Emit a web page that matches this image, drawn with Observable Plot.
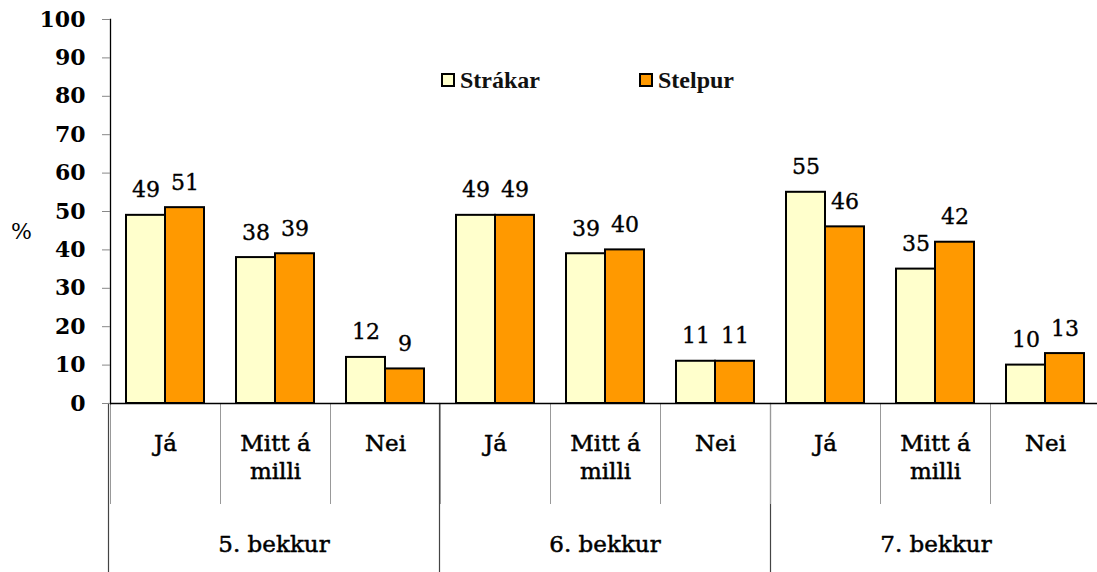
<!DOCTYPE html>
<html><head><meta charset="utf-8">
<script src="https://cdn.jsdelivr.net/npm/d3@7"></script>
<script src="https://cdn.jsdelivr.net/npm/@observablehq/plot@0.6"></script>
<style>
html,body{margin:0;padding:0;background:#fff;overflow:hidden}
#wrap{position:relative;width:1097px;height:572px;background:#fff}
#wrap svg{position:absolute;left:0;top:0}
.leg{position:absolute;display:flex;align-items:center;height:24px;font-family:"Liberation Serif",serif;font-weight:bold;font-size:24px;color:#111;white-space:nowrap}
.leg .sw{width:14px;height:14px;box-sizing:border-box;border:2px solid #000;margin-right:5px}
.ylab{position:absolute;left:11px;top:219px;font-family:"DejaVu Serif",serif;font-size:22px;color:#000}
</style></head>
<body><div id="wrap"></div>
<script>
const grades = ["5. bekkur", "6. bekkur", "7. bekkur"];
const answers = ["Já", "Mitt á milli", "Nei"];
const answerLabels = ["Já", "Mitt á\nmilli", "Nei"];
const series = ["Strákar", "Stelpur"];
const colors = ["#FFFFCC", "#FF9900"];
const strakar = [49, 38, 12, 49, 39, 11, 55, 35, 10];
const stelpur = [51, 39, 9, 49, 40, 11, 46, 42, 13];
const yTicks = [0, 10, 20, 30, 40, 50, 60, 70, 80, 90, 100];
const yLabel = "%";

const keys = grades.flatMap(g => answers.map(a => g + "|" + a));
const labelOf = k => answerLabels[answers.indexOf(k.split("|")[1])];
const data = keys.flatMap((k, i) => [
  {key: k, series: series[0], value: strakar[i]},
  {key: k, series: series[1], value: stelpur[i]}
]);

const common = {
  width: 1097, height: 572,
  marginTop: 19, marginBottom: 0, marginLeft: 108, marginRight: -4
};

const groupPlot = Plot.plot({
  ...common,
  style: {fontFamily: "'DejaVu Serif', serif", fontSize: "22px", background: "white"},
  fx: {domain: grades, padding: 0, axis: null},
  marks: [
    Plot.frame({anchor: "left", insetTop: 384, stroke: "#444", strokeWidth: 1.2}),
    Plot.text(grades, {fx: d => d, text: d => d, frameAnchor: "bottom", dy: -21, fontSize: 23, fill: "black", stroke: "black", strokeWidth: 0.5})
  ]
});

const mainPlot = Plot.plot({
  ...common,
  style: {fontFamily: "'DejaVu Serif', serif", fontSize: "22px", background: "transparent"},
  fx: {domain: keys, padding: 0, axis: null},
  x: {domain: series, paddingInner: 0, paddingOuter: 0.4, axis: null},
  y: {domain: [0, 100], range: [403, 19]},
  color: {domain: series, range: colors},
  marks: [
    Plot.frame({anchor: "left", insetTop: 384, insetBottom: 69, stroke: "#999", strokeWidth: 1}),
    Plot.frame({anchor: "left", facetAnchor: "left", insetBottom: 169, stroke: "black", strokeWidth: 1.3}),
    Plot.axisY(yTicks, {tickSize: 8, tickPadding: 17, fontSize: 22, fontWeight: "bold", stroke: "#888", fill: "black", label: null}),
    Plot.barY(data, {fx: "key", x: "series", y: "value", fill: "series", stroke: "black", strokeWidth: 2}),
    Plot.ruleY([0], {stroke: "black", strokeWidth: 1.5}),
    Plot.text(data, {fx: "key", x: "series", y: "value", text: "value", dy: -25, fontSize: 22, fill: "black", stroke: "black", strokeWidth: 0.35}),
    Plot.text(keys, {fx: d => d, text: labelOf, frameAnchor: "bottom", lineAnchor: "top", dy: -141, lineHeight: 1.2, fontSize: 23, fill: "black", stroke: "black", strokeWidth: 0.5})
  ]
});

const wrap = document.getElementById("wrap");
wrap.appendChild(groupPlot);
wrap.appendChild(mainPlot);

const yl = document.createElement("div");
yl.className = "ylab"; yl.textContent = yLabel;
wrap.appendChild(yl);

const legLeft = [441, 639];
series.forEach((s, i) => {
  const d = document.createElement("div");
  d.className = "leg";
  d.style.left = legLeft[i] + "px";
  d.style.top = "68px";
  const sw = document.createElement("span");
  sw.className = "sw"; sw.style.background = colors[i];
  const t = document.createElement("span");
  t.textContent = s;
  d.appendChild(sw); d.appendChild(t);
  wrap.appendChild(d);
});
</script>
</body></html>
